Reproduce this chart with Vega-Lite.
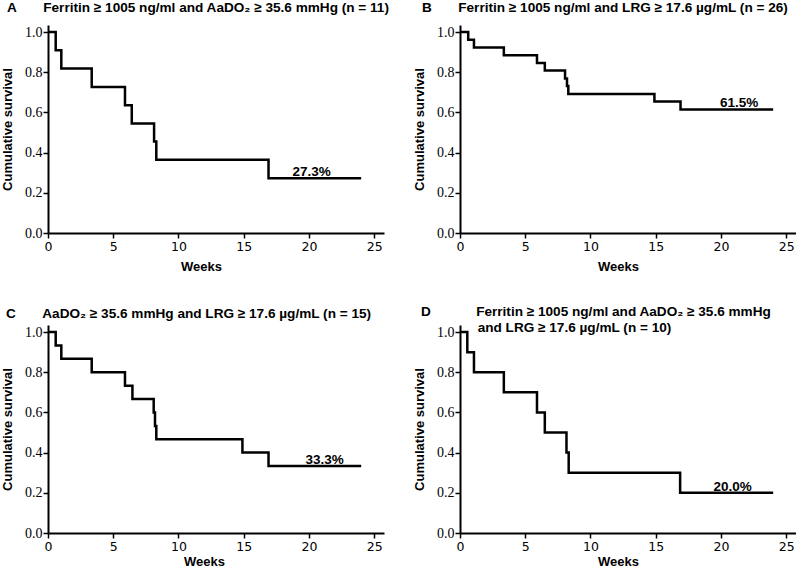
{
  "$schema": "https://vega.github.io/schema/vega-lite/v6.json",
  "background": "white",
  "padding": {"left": 1, "top": 1, "right": 0, "bottom": 0},
  "bounds": "flush",
  "columns": 2,
  "spacing": {"row": 92, "column": 76},
  "config": {
    "view": {"stroke": null},
    "axis": {
      "domainColor": "black", "domainWidth": 2, "tickColor": "black", "tickWidth": 1.5,
      "labelColor": "black", "grid": false, "labelOverlap": false,
      "titleFont": "Liberation Sans", "titleFontWeight": "bold", "titleFontSize": 13, "titleColor": "black"
    },
    "title": {"font": "Liberation Sans", "fontWeight": "bold", "fontSize": 13.6, "color": "black", "anchor": "start", "frame": "group", "baseline": "alphabetic"},
    "line": {"interpolate": "step-after", "color": "black", "strokeWidth": 2.5},
    "text": {"font": "Liberation Sans", "fontWeight": "bold", "fontSize": 13.5, "color": "black", "baseline": "alphabetic", "dy": -2}
  },
  "datasets": {
    "a": [
      {"week": 0, "surv": 1.0}, {"week": 0.59, "surv": 0.909}, {"week": 1.02, "surv": 0.818},
      {"week": 3.35, "surv": 0.727}, {"week": 5.9, "surv": 0.636}, {"week": 6.42, "surv": 0.545},
      {"week": 8.13, "surv": 0.455}, {"week": 8.3, "surv": 0.364}, {"week": 16.9, "surv": 0.273},
      {"week": 24, "surv": 0.273}
    ],
    "b": [
      {"week": 0, "surv": 1.0}, {"week": 0.63, "surv": 0.962}, {"week": 1.07, "surv": 0.923},
      {"week": 3.36, "surv": 0.885}, {"week": 5.9, "surv": 0.846}, {"week": 6.5, "surv": 0.808},
      {"week": 8.05, "surv": 0.769}, {"week": 8.2, "surv": 0.731}, {"week": 8.3, "surv": 0.692},
      {"week": 14.9, "surv": 0.654}, {"week": 16.9, "surv": 0.615}, {"week": 24, "surv": 0.615}
    ],
    "c": [
      {"week": 0, "surv": 1.0}, {"week": 0.59, "surv": 0.933}, {"week": 1.02, "surv": 0.867},
      {"week": 3.35, "surv": 0.8}, {"week": 5.9, "surv": 0.733}, {"week": 6.47, "surv": 0.667},
      {"week": 8.1, "surv": 0.6}, {"week": 8.2, "surv": 0.533}, {"week": 8.3, "surv": 0.467},
      {"week": 14.9, "surv": 0.4}, {"week": 16.9, "surv": 0.333}, {"week": 24, "surv": 0.333}
    ],
    "d": [
      {"week": 0, "surv": 1.0}, {"week": 0.56, "surv": 0.9}, {"week": 1.07, "surv": 0.8},
      {"week": 3.36, "surv": 0.7}, {"week": 5.9, "surv": 0.6}, {"week": 6.5, "surv": 0.5},
      {"week": 8.16, "surv": 0.4}, {"week": 8.33, "surv": 0.3}, {"week": 16.87, "surv": 0.2},
      {"week": 24, "surv": 0.2}
    ]
  },
  "concat": [
    {
      "width": 336, "height": 208,
      "title": {"text": "A\u00a0\u00a0\u00a0\u00a0\u00a0\u00a0\u00a0Ferritin ≥ 1005 ng/ml and AaDO₂ ≥ 35.6 mmHg (n = 11)", "dx": -41, "offset": 10},
      "layer": [
        {"data": {"name": "a"}, "mark": {"type": "line"},
         "encoding": {
           "x": {"field": "week", "type": "quantitative", "scale": {"domain": [0, 25.75], "nice": false},
                 "axis": {"title": "Weeks", "titleX": 153, "titlePadding": 8, "values": [0, 2.5, 5, 7.5, 10, 12.5, 15, 17.5, 20, 22.5, 25], "labelExpr": "datum.value % 5 === 0 ? format(datum.value, 'd') : ''", "tickSize": {"condition": {"test": "datum.value % 5 === 0", "value": 5}, "value": 3}, "labelFont": "DejaVu Sans", "labelFontSize": 12.5, "labelPadding": 2, "labelFlush": false}},
           "y": {"field": "surv", "type": "quantitative", "scale": {"domain": [0, 1.035], "nice": false},
                 "axis": {"title": "Cumulative survival", "titlePadding": 10, "values": [0, 0.1, 0.2, 0.3, 0.4, 0.5, 0.6, 0.7, 0.8, 0.9, 1.0], "labelExpr": "round(datum.value * 10) % 2 === 0 ? format(datum.value, '.1f') : ''", "tickSize": {"condition": {"test": "round(datum.value * 10) % 2 === 0", "value": 5}, "value": 3}, "labelFont": "Liberation Serif", "labelFontSize": 14, "labelPadding": 1}}
         }},
        {"data": {"values": [{"week": 20.2, "surv": 0.273, "label": "27.3%"}]}, "mark": {"type": "text"},
         "encoding": {"x": {"field": "week", "type": "quantitative"}, "y": {"field": "surv", "type": "quantitative"}, "text": {"field": "label"}}}
      ]
    },
    {
      "width": 336, "height": 208,
      "title": {"text": "B\u00a0\u00a0\u00a0\u00a0\u00a0\u00a0\u00a0Ferritin ≥ 1005 ng/ml and LRG ≥ 17.6 µg/mL (n = 26)", "dx": -38, "offset": 10},
      "layer": [
        {"data": {"name": "b"}, "mark": {"type": "line"},
         "encoding": {
           "x": {"field": "week", "type": "quantitative", "scale": {"domain": [0, 25.75], "nice": false},
                 "axis": {"title": "Weeks", "titleX": 158, "titlePadding": 8, "values": [0, 2.5, 5, 7.5, 10, 12.5, 15, 17.5, 20, 22.5, 25], "labelExpr": "datum.value % 5 === 0 ? format(datum.value, 'd') : ''", "tickSize": {"condition": {"test": "datum.value % 5 === 0", "value": 5}, "value": 3}, "labelFont": "DejaVu Sans", "labelFontSize": 12.5, "labelPadding": 2, "labelFlush": false}},
           "y": {"field": "surv", "type": "quantitative", "scale": {"domain": [0, 1.035], "nice": false},
                 "axis": {"title": "Cumulative survival", "titlePadding": 10, "values": [0, 0.1, 0.2, 0.3, 0.4, 0.5, 0.6, 0.7, 0.8, 0.9, 1.0], "labelExpr": "round(datum.value * 10) % 2 === 0 ? format(datum.value, '.1f') : ''", "tickSize": {"condition": {"test": "round(datum.value * 10) % 2 === 0", "value": 5}, "value": 3}, "labelFont": "Liberation Serif", "labelFontSize": 14, "labelPadding": 1}}
         }},
        {"data": {"values": [{"week": 21.4, "surv": 0.615, "label": "61.5%"}]}, "mark": {"type": "text"},
         "encoding": {"x": {"field": "week", "type": "quantitative"}, "y": {"field": "surv", "type": "quantitative"}, "text": {"field": "label"}}}
      ]
    },
    {
      "width": 336, "height": 208,
      "title": {"text": "C\u00a0\u00a0\u00a0\u00a0\u00a0\u00a0\u00a0AaDO₂ ≥ 35.6 mmHg and LRG ≥ 17.6 µg/mL (n = 15)", "dx": -42, "offset": 4},
      "layer": [
        {"data": {"name": "c"}, "mark": {"type": "line"},
         "encoding": {
           "x": {"field": "week", "type": "quantitative", "scale": {"domain": [0, 25.75], "nice": false},
                 "axis": {"title": "Weeks", "titleX": 156, "titlePadding": 3, "values": [0, 2.5, 5, 7.5, 10, 12.5, 15, 17.5, 20, 22.5, 25], "labelExpr": "datum.value % 5 === 0 ? format(datum.value, 'd') : ''", "tickSize": {"condition": {"test": "datum.value % 5 === 0", "value": 5}, "value": 3}, "labelFont": "DejaVu Sans", "labelFontSize": 12.5, "labelPadding": 2, "labelFlush": false}},
           "y": {"field": "surv", "type": "quantitative", "scale": {"domain": [0, 1.035], "nice": false},
                 "axis": {"title": "Cumulative survival", "titlePadding": 10, "values": [0, 0.1, 0.2, 0.3, 0.4, 0.5, 0.6, 0.7, 0.8, 0.9, 1.0], "labelExpr": "round(datum.value * 10) % 2 === 0 ? format(datum.value, '.1f') : ''", "tickSize": {"condition": {"test": "round(datum.value * 10) % 2 === 0", "value": 5}, "value": 3}, "labelFont": "Liberation Serif", "labelFontSize": 14, "labelPadding": 1}}
         }},
        {"data": {"values": [{"week": 21.2, "surv": 0.333, "label": "33.3%"}]}, "mark": {"type": "text"},
         "encoding": {"x": {"field": "week", "type": "quantitative"}, "y": {"field": "surv", "type": "quantitative"}, "text": {"field": "label"}}}
      ]
    },
    {
      "width": 336, "height": 208,
      "title": {"text": ["D\u00a0\u00a0\u00a0\u00a0\u00a0\u00a0\u00a0\u00a0\u00a0\u00a0\u00a0\u00a0Ferritin ≥ 1005 ng/ml and AaDO₂ ≥ 35.6 mmHg", "\u200b\u00a0\u00a0\u00a0\u00a0\u00a0\u00a0\u00a0\u00a0\u00a0\u00a0\u00a0\u00a0\u00a0\u00a0\u00a0and LRG ≥ 17.6 µg/mL (n = 10)"], "dx": -39, "offset": -10, "lineHeight": 16},
      "layer": [
        {"data": {"name": "d"}, "mark": {"type": "line"},
         "encoding": {
           "x": {"field": "week", "type": "quantitative", "scale": {"domain": [0, 25.75], "nice": false},
                 "axis": {"title": "Weeks", "titleX": 158, "titlePadding": 3, "values": [0, 2.5, 5, 7.5, 10, 12.5, 15, 17.5, 20, 22.5, 25], "labelExpr": "datum.value % 5 === 0 ? format(datum.value, 'd') : ''", "tickSize": {"condition": {"test": "datum.value % 5 === 0", "value": 5}, "value": 3}, "labelFont": "DejaVu Sans", "labelFontSize": 12.5, "labelPadding": 2, "labelFlush": false}},
           "y": {"field": "surv", "type": "quantitative", "scale": {"domain": [0, 1.035], "nice": false},
                 "axis": {"title": "Cumulative survival", "titlePadding": 10, "values": [0, 0.1, 0.2, 0.3, 0.4, 0.5, 0.6, 0.7, 0.8, 0.9, 1.0], "labelExpr": "round(datum.value * 10) % 2 === 0 ? format(datum.value, '.1f') : ''", "tickSize": {"condition": {"test": "round(datum.value * 10) % 2 === 0", "value": 5}, "value": 3}, "labelFont": "Liberation Serif", "labelFontSize": 14, "labelPadding": 1}}
         }},
        {"data": {"values": [{"week": 20.9, "surv": 0.2, "label": "20.0%"}]}, "mark": {"type": "text"},
         "encoding": {"x": {"field": "week", "type": "quantitative"}, "y": {"field": "surv", "type": "quantitative"}, "text": {"field": "label"}}}
      ]
    }
  ]
}
